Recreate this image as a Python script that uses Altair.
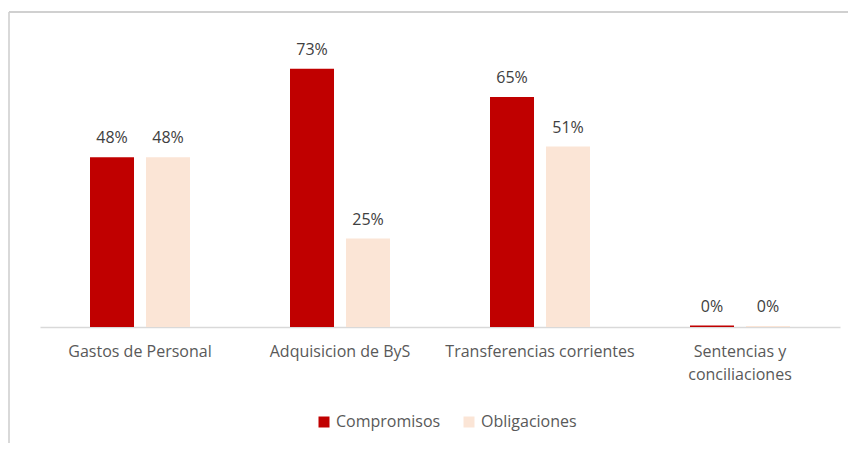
import altair as alt
import pandas as pd

categories = ["Gastos de Personal", "Adquisicion de ByS", "Transferencias corrientes", "Sentencias y conciliaciones"]
series = ["Compromisos", "Obligaciones"]
compromisos = [0.48, 0.73, 0.65, 0.004]
obligaciones = [0.48, 0.25, 0.51, 0.003]
colors = ["#C00000", "#FBE5D6"]

rows = []
for c, v1, v2 in zip(categories, compromisos, obligaciones):
    rows.append({"cat": c, "serie": series[0], "val": v1})
    rows.append({"cat": c, "serie": series[1], "val": v2})
df = pd.DataFrame(rows)

FONT = "Open Sans"
FS = 16

x_enc = alt.X("cat:N", sort=categories,
              scale=alt.Scale(paddingInner=0.5, paddingOuter=0.25),
              axis=alt.Axis(title=None, labelAngle=0, ticks=False, grid=False,
                            domainColor="#D9D9D9", domainWidth=1.3,
                            labelFont=FONT, labelFontSize=FS, labelColor="#595959",
                            labelPadding=16, labelLineHeight=23, labelLimit=400,
                            labelExpr="datum.label == 'Sentencias y conciliaciones' ? ['Sentencias y', 'conciliaciones'] : datum.label"))
xoff = alt.XOffset("serie:N", sort=series, scale=alt.Scale(paddingInner=0.214, paddingOuter=0))
y_enc = alt.Y("val:Q", scale=alt.Scale(domain=[0, 0.8], nice=False), axis=None)

bars = alt.Chart(df).mark_bar().encode(
    x=x_enc, xOffset=xoff, y=y_enc,
    color=alt.Color("serie:N", sort=series,
                    scale=alt.Scale(domain=series, range=colors),
                    legend=alt.Legend(title=None, orient="none", direction="horizontal",
                                      legendX=276, legendY=370, symbolType="square",
                                      symbolSize=121, symbolStrokeWidth=0,
                                      labelFont=FONT, labelFontSize=FS, labelColor="#595959",
                                      columnPadding=20, labelOffset=4)),
)

labels = alt.Chart(df).mark_text(baseline="bottom", dy=-11, font=FONT, fontSize=FS, color="#404040").encode(
    x=x_enc, xOffset=xoff, y=y_enc,
    text=alt.Text("val:Q", format=".0%"),
)

frame_v = alt.Chart(df).mark_rule(color="#D9D9D9", strokeWidth=1.5).encode(
    x=alt.value(-31), y=alt.value(-32), y2=alt.value(399))
frame_top = alt.Chart(pd.DataFrame({"a": [0]})).mark_rect(color="#D0D0D0").encode(
    x=alt.value(-31), x2=alt.value(808), y=alt.value(-33), y2=alt.value(-31))

chart = alt.layer(frame_v, frame_top, bars, labels).properties(
    width=800, height=283,
    autosize=alt.AutoSizeParams(type="none"),
    padding={"left": 32, "top": 36, "right": 8, "bottom": 116},
    background="white",
).configure_view(stroke=None)

chart.save("out.html", embed_options={"renderer": "svg", "actions": False})
